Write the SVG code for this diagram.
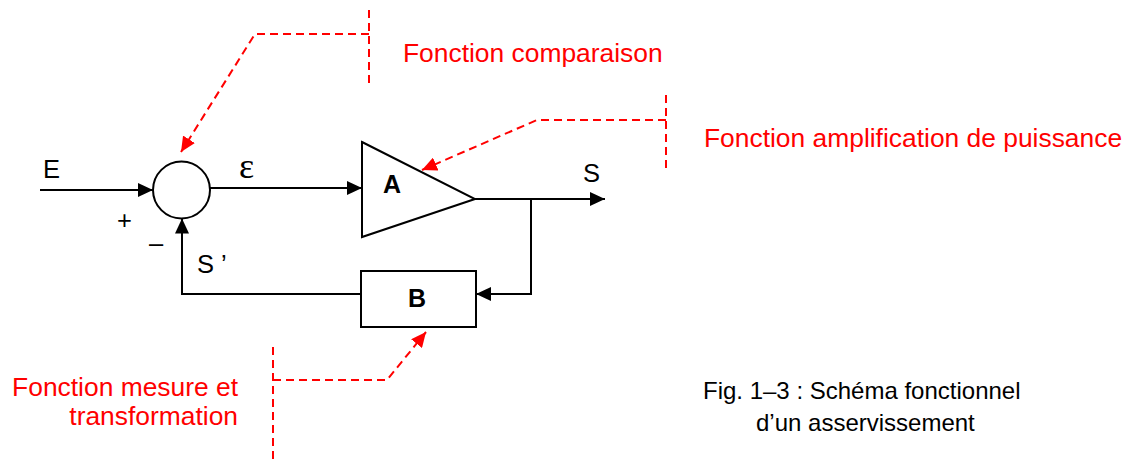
<svg xmlns="http://www.w3.org/2000/svg" width="1139" height="462" viewBox="0 0 1139 462">
<style>
.ln{stroke:#000;stroke-width:2;fill:none}
.sh{stroke:#000;stroke-width:2;fill:#fff}
.rd{stroke:#f00;stroke-width:2;fill:none;stroke-dasharray:8,5}
.t{font-family:"Liberation Sans",Arial,sans-serif;font-size:24px;fill:#000}
.l{font-family:"Liberation Sans",Arial,sans-serif;font-size:25.5px;fill:#000}
.b{font-family:"Liberation Sans",Arial,sans-serif;font-size:25px;font-weight:bold;fill:#000}
.r{font-family:"Liberation Sans",Arial,sans-serif;font-size:26.4px;fill:#f00}
</style>
<defs>
<marker id="ab" markerUnits="userSpaceOnUse" markerWidth="16" markerHeight="14" refX="15" refY="7" orient="auto"><path d="M0,0 L15,7 L0,14 z" fill="#000"/></marker>
<marker id="ar" markerUnits="userSpaceOnUse" markerWidth="16" markerHeight="14" refX="15" refY="7" orient="auto"><path d="M0,0 L15,7 L0,14 z" fill="#f00"/></marker>
</defs>
<rect width="1139" height="462" fill="#fff"/>
<g id="connectors">
<line class="ln" x1="40" y1="190" x2="153" y2="190" marker-end="url(#ab)"/>
<line class="ln" x1="210" y1="188" x2="362" y2="188" marker-end="url(#ab)"/>
<line class="ln" x1="475" y1="199" x2="605" y2="199" marker-end="url(#ab)"/>
<polyline class="ln" points="531,199 531,294 476,294" marker-end="url(#ab)"/>
<polyline class="ln" points="361,294 182,294 182,218.5" marker-end="url(#ab)"/>
</g>
<g id="comparateur"><circle class="sh" cx="181.5" cy="190" r="28.5"/></g>
<g id="A"><polygon class="sh" points="362,142 475,199 362,237"/><text class="b" x="383" y="193">A</text></g>
<g id="B"><rect class="sh" x="361" y="271" width="115" height="56"/><text class="b" x="417" y="307" text-anchor="middle">B</text></g>
<g id="labels">
<text class="l" x="43" y="178">E</text>
<text x="239" y="178" style="font-family:'Liberation Serif','Times New Roman',serif;font-size:36px">ε</text>
<text class="l" x="583" y="182">S</text>
<text class="l" x="117" y="229">+</text>
<text class="l" x="149" y="252">–</text>
<text class="l" x="197" y="273" xml:space="preserve">S ’</text>
</g>
<g id="annot-comparaison">
<line class="rd" x1="369" y1="10" x2="369" y2="88"/>
<polyline class="rd" points="369,34 255,34 181,152" marker-end="url(#ar)"/>
<text class="r" x="403" y="62">Fonction comparaison</text>
</g>
<g id="annot-amplification">
<line class="rd" x1="666" y1="95" x2="666" y2="173"/>
<polyline class="rd" points="666,120 537,120 422,170" marker-end="url(#ar)"/>
<text class="r" x="704" y="147">Fonction amplification de puissance</text>
</g>
<g id="annot-mesure">
<line class="rd" x1="273" y1="347" x2="273" y2="462"/>
<polyline class="rd" points="273,380 387,380 426,332" marker-end="url(#ar)"/>
<text class="r" x="238" y="396" text-anchor="end">Fonction mesure et</text>
<text class="r" x="238" y="425" text-anchor="end">transformation</text>
</g>
<g id="caption">
<text class="t" x="703" y="399">Fig. 1–3 : Schéma fonctionnel</text>
<text class="t" x="756" y="431">d’un asservissement</text>
</g>
</svg>
